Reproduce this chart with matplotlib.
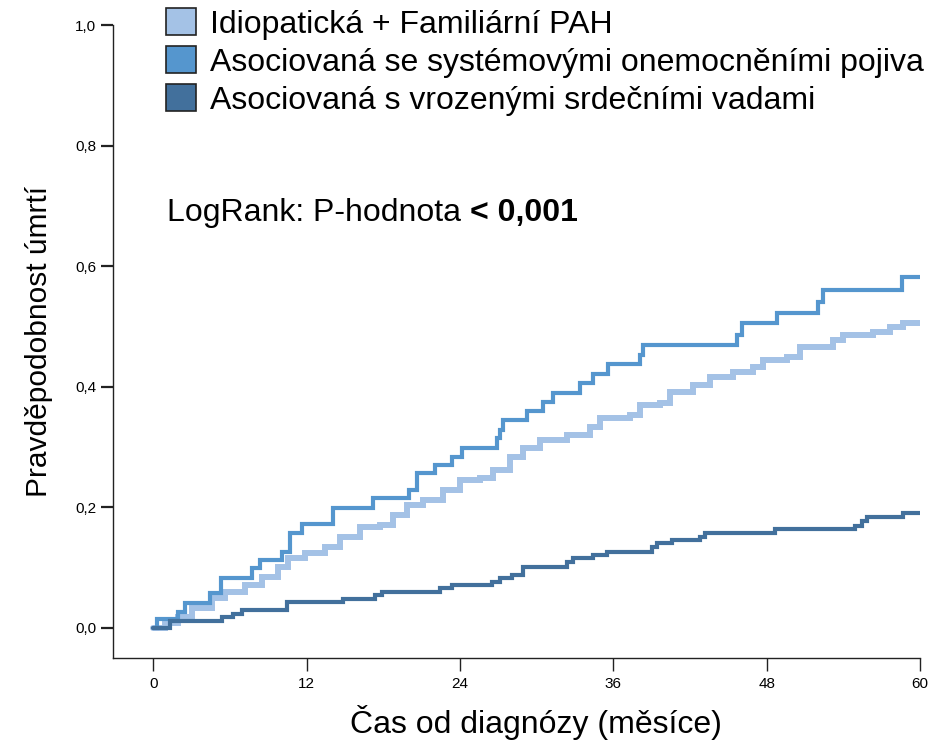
import matplotlib
matplotlib.use("Agg")
import matplotlib.pyplot as plt
from matplotlib.patches import Patch
from matplotlib import font_manager

# ---------------- data ----------------
series_names = ["Idiopatická + Familiární PAH",
                "Asociovaná se systémovými onemocněními pojiva",
                "Asociovaná s vrozenými srdečními vadami"]
series_colors = ["#A4C2E6", "#5596CE", "#42709C"]

ipah_t = [0, 0.94, 1.96, 3.05, 4.62, 5.63, 7.20, 8.53, 9.78, 10.56, 11.89, 13.46,
          14.63, 16.19, 17.76, 18.77, 19.87, 21.12, 22.69, 24.02, 25.58, 26.60,
          27.93, 28.94, 30.27, 32.39, 34.19, 34.97, 37.32, 38.10, 39.66, 40.44,
          42.24, 43.57, 45.37, 46.94, 47.72, 49.60, 50.61, 53.20, 53.98, 56.33,
          57.65, 58.67, 60.0]
ipah_p = [0, 0.008, 0.018, 0.033, 0.050, 0.060, 0.071, 0.085, 0.101, 0.116, 0.124, 0.134,
          0.151, 0.167, 0.171, 0.187, 0.204, 0.212, 0.229, 0.245, 0.249, 0.262,
          0.284, 0.299, 0.312, 0.320, 0.333, 0.348, 0.353, 0.370, 0.373, 0.391,
          0.403, 0.416, 0.425, 0.433, 0.444, 0.449, 0.466, 0.478, 0.486, 0.491,
          0.499, 0.506, 0.506]

ctd_t = [0, 0.31, 1.96, 2.50, 4.46, 5.32, 7.74, 8.37, 10.09, 10.72, 11.66, 14.08,
         17.21, 20.03, 20.65, 22.06, 23.39, 24.17, 26.91, 27.15, 27.38, 29.26,
         30.51, 31.29, 33.40, 34.42, 35.59, 38.10, 38.33, 45.69, 46.08, 48.81,
         52.02, 52.41, 58.59, 60.0]
ctd_p = [0, 0.015, 0.027, 0.041, 0.058, 0.083, 0.100, 0.113, 0.126, 0.158, 0.172, 0.199,
         0.216, 0.229, 0.257, 0.270, 0.284, 0.299, 0.315, 0.328, 0.345, 0.360,
         0.375, 0.390, 0.406, 0.421, 0.438, 0.453, 0.469, 0.486, 0.506, 0.522,
         0.541, 0.561, 0.582, 0.582]

chd_t = [0, 1.33, 5.40, 6.26, 6.96, 10.48, 14.86, 17.37, 17.91, 22.45, 23.39,
         26.52, 27.15, 28.08, 28.94, 32.39, 32.86, 34.42, 35.52, 39.04, 39.43,
         40.60, 42.79, 43.18, 48.66, 54.92, 55.46, 55.86, 58.67, 60.0]
chd_p = [0, 0.012, 0.018, 0.023, 0.030, 0.043, 0.048, 0.055, 0.060, 0.066, 0.071,
         0.076, 0.083, 0.088, 0.101, 0.109, 0.116, 0.121, 0.126, 0.134, 0.141,
         0.146, 0.151, 0.158, 0.164, 0.169, 0.177, 0.184, 0.191, 0.191]

x_ticks = [0, 12, 24, 36, 48, 60]
y_ticks = [0.0, 0.2, 0.4, 0.6, 0.8, 1.0]
y_tick_labels = ["0,0", "0,2", "0,4", "0,6", "0,8", "1,0"]

# ---------------- fonts ----------------
names = {f.name for f in font_manager.fontManager.ttflist}
main_font = "Liberation Sans" if "Liberation Sans" in names else "DejaVu Sans"
narrow_font = "Liberation Sans Narrow" if "Liberation Sans Narrow" in names else main_font
plt.rcParams['font.family'] = [main_font, 'DejaVu Sans']

# ---------------- figure ----------------
W, H = 940, 740
fig = plt.figure(figsize=(W / 100, H / 100), dpi=100)
ax = fig.add_axes([113 / W, 1 - 658 / H, (920 - 113) / W, (658 - 25) / H])

lws = [4.3, 3.0, 3.0]
for t, p, c, lw in zip([ipah_t, ctd_t, chd_t], [ipah_p, ctd_p, chd_p], series_colors, lws):
    ax.step(t, p, where='post', color=c, lw=lw, solid_joinstyle='miter',
            solid_capstyle='round')

ax.set_xlim(-3.14, 60)
ax.set_ylim(-0.05, 1.0)
for s in ["top", "right"]:
    ax.spines[s].set_visible(False)
for s in ["left", "bottom"]:
    ax.spines[s].set_linewidth(1.0)
    ax.spines[s].set_color("#222222")

ax.set_xticks(x_ticks)
ax.set_xticklabels([str(v) for v in x_ticks], fontfamily=narrow_font, fontsize=11)
ax.set_yticks(y_ticks)
ax.set_yticklabels(y_tick_labels, fontfamily=narrow_font, fontsize=11)
ax.tick_params(axis='y', length=9, width=1.6, pad=3, colors="#222222", labelcolor="black")
ax.tick_params(axis='x', length=9, width=1.0, pad=5, colors="#222222", labelcolor="black")

ax.set_xlabel("Čas od diagnózy (měsíce)", fontsize=23)
ax.xaxis.set_label_coords((536 - 113) / 807, -0.075)
ax.set_ylabel("Pravděpodobnost úmrtí", fontsize=21.5, labelpad=16)

handles = [Patch(facecolor=c, edgecolor="#222222", lw=1.2) for c in series_colors]
leg = fig.legend(handles, series_names, loc="upper left",
                 bbox_to_anchor=(166 / W, 1 - 8 / H), frameon=False,
                 fontsize=23, handlelength=0.94, handleheight=0.94,
                 handletextpad=0.45, labelspacing=0.2, borderpad=0,
                 borderaxespad=0)

t1 = fig.text(167 / W, 1 - 213 / H, "LogRank: P-hodnota ", fontsize=23, va="center", ha="left")
fig.canvas.draw()
bb = t1.get_window_extent()
fig.text(bb.x1 / W, 1 - 213 / H, "< 0,001", fontsize=23, fontweight="bold",
         va="center", ha="left")

fig.savefig("out.png", dpi=100)
